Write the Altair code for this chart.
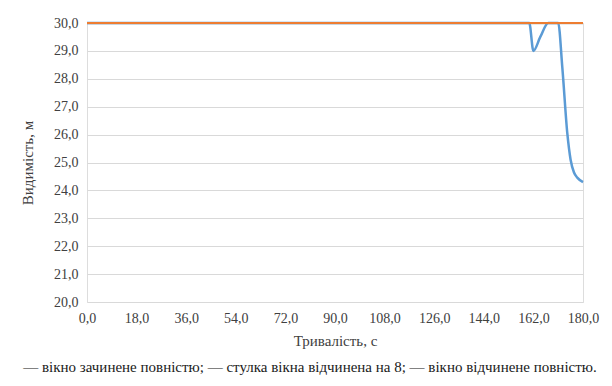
import altair as alt
import pandas as pd

# Time (s) and visibility (m) values
t_closed = [0.0, 18.0, 36.0, 54.0, 72.0, 90.0, 108.0, 126.0, 144.0, 160.5, 162.0, 164.5, 167.4, 171.0, 172.5, 174.3, 175.5, 176.7, 178.0, 180.0]
v_closed = [30.0, 30.0, 30.0, 30.0, 30.0, 30.0, 30.0, 30.0, 30.0, 30.0, 29.0, 29.5, 30.0, 30.0, 28.4, 26.05, 25.1, 24.65, 24.45, 24.3]

t_flap = [0.0, 18.0, 36.0, 54.0, 72.0, 90.0, 108.0, 126.0, 144.0, 162.0, 180.0]
v_flap = [30.0] * 11

t_open = [0.0, 18.0, 36.0, 54.0, 72.0, 90.0, 108.0, 126.0, 144.0, 162.0, 180.0]
v_open = [30.0] * 11

series_names = ["вікно зачинене повністю", "стулка вікна відчинена на 8", "вікно відчинене повністю"]
series_colors = ["#5B9BD5", "#A5A5A5", "#ED7D31"]
series_widths = [2.5, 2.0, 2.0]
x_ticks = [0, 18, 36, 54, 72, 90, 108, 126, 144, 162, 180]
y_ticks = [20, 21, 22, 23, 24, 25, 26, 27, 28, 29, 30]
caption = "— вікно зачинене повністю; — стулка вікна відчинена на 8; — вікно відчинене повністю."

rows = []
for t, v in zip(t_closed, v_closed):
    rows.append({"t": t, "v": v, "s": series_names[0], "o": 2})
for t, v in zip(t_flap, v_flap):
    rows.append({"t": t, "v": v, "s": series_names[1], "o": 1})
for t, v in zip(t_open, v_open):
    rows.append({"t": t, "v": v, "s": series_names[2], "o": 3})
df = pd.DataFrame(rows)

FONT = "Liberation Serif"
fmt = "replace(format(datum.value, '.1f'), '.', ',')"

base = alt.Chart(df)

lines = base.mark_line(interpolate="monotone").encode(
    x=alt.X("t:Q",
            scale=alt.Scale(domain=[0, 180], nice=False, zero=False),
            axis=alt.Axis(values=x_ticks, labelExpr=fmt, title="Тривалість, с",
                          grid=False, domain=False, ticks=False,
                          labelFont=FONT, labelFontSize=14, labelColor="#404040",
                          labelPadding=9, labelFlush=False,
                          titleFont=FONT, titleFontSize=15, titleFontWeight="normal",
                          titleColor="#404040", titlePadding=8)),
    y=alt.Y("v:Q",
            scale=alt.Scale(domain=[20, 30], nice=False, zero=False),
            axis=alt.Axis(values=y_ticks, labelExpr=fmt, title="Видимість, м",
                          grid=True, gridColor="#D9D9D9", gridWidth=1,
                          domain=False, ticks=False,
                          labelFont=FONT, labelFontSize=14, labelColor="#404040",
                          labelPadding=9,
                          titleFont=FONT, titleFontSize=15, titleFontWeight="normal",
                          titleColor="#404040", titlePadding=18)),
    color=alt.Color("s:N", scale=alt.Scale(domain=series_names, range=series_colors), legend=None),
    strokeWidth=alt.StrokeWidth("s:N", scale=alt.Scale(domain=series_names, range=series_widths), legend=None),
    order=alt.Order("o:Q"),
    detail="s:N",
)

chart = lines.properties(
    width=496,
    height=279,
    autosize=alt.AutoSizeParams(type="none"),
    padding={"left": 79, "top": 15, "right": 21, "bottom": 76},
    title=alt.TitleParams(caption, orient="bottom", anchor="middle", font=FONT,
                          fontSize=15, fontWeight="normal", color="#202020",
                          offset=12, dx=-25),
).configure_view(stroke=None).configure(background="white")

chart.save("out.html", embed_options={"renderer": "svg", "actions": False})
